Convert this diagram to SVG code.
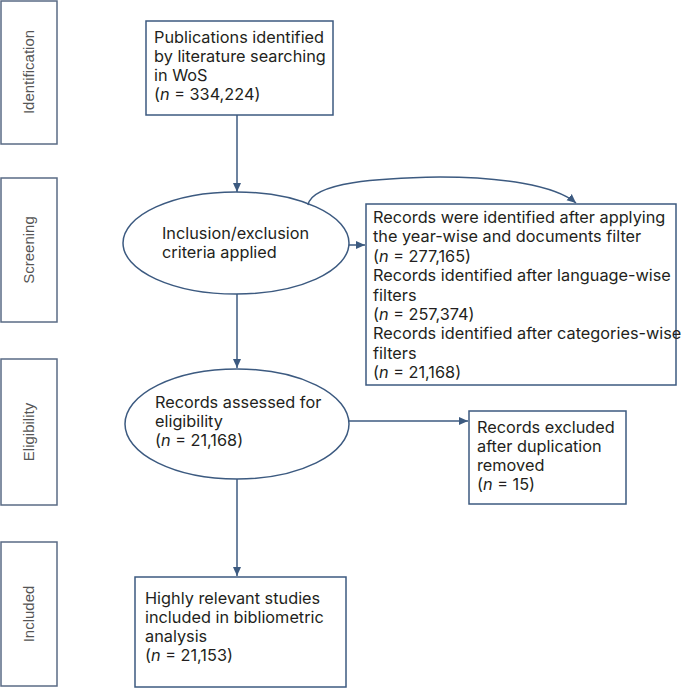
<svg xmlns="http://www.w3.org/2000/svg" width="685" height="691" viewBox="0 0 685 691">
<style>
.b{fill:#fff;stroke:#3c5a80;stroke-width:1.5}
.g{fill:#fff;stroke:#5a6b85;stroke-width:1.5}
.t{font-family:Inter,"Liberation Sans",sans-serif;font-size:16.3px;fill:#231f20}
.s{font-family:"Liberation Sans",Arial,sans-serif;font-size:15px;fill:#555;text-anchor:middle}
.c{fill:none;stroke:#3c5a80;stroke-width:1.5}
</style>
<defs><marker id="a" markerWidth="10" markerHeight="10" refX="9" refY="5" orient="auto" markerUnits="userSpaceOnUse"><path d="M0,1 L9,5 L0,9 Z" fill="#3c5a80"/></marker></defs>
<rect width="685" height="691" fill="#fff"/>
<g id="stage-identification"><rect class="g" x="1" y="1" width="56" height="143"/><text class="s" transform="translate(34,72) rotate(-90)">Identification</text></g>
<g id="stage-screening"><rect class="g" x="1" y="178" width="56" height="144"/><text class="s" transform="translate(34,250) rotate(-90)">Screening</text></g>
<g id="stage-eligibility"><rect class="g" x="1" y="359" width="56" height="146"/><text class="s" transform="translate(34,432) rotate(-90)">Eligibility</text></g>
<g id="stage-included"><rect class="g" x="1" y="542" width="56" height="144"/><text class="s" transform="translate(34,614) rotate(-90)">Included</text></g>
<g id="n1"><rect class="b" x="146" y="21" width="187" height="94"/><text class="t" x="154" y="43">Publications identified</text><text class="t" x="154" y="62">by literature searching</text><text class="t" x="154" y="81">in WoS</text><text class="t" x="154" y="100">(<tspan font-style="italic">n</tspan> = 334,224)</text></g>
<g id="n2"><ellipse class="b" cx="236" cy="243" rx="113" ry="51"/><text class="t" x="162" y="239">Inclusion/exclusion</text><text class="t" x="162" y="258">criteria applied</text></g>
<g id="n3"><rect class="b" x="366" y="204" width="310" height="181"/><text class="t" x="373" y="223">Records were identified after applying</text><text class="t" x="373" y="242.4">the year-wise and documents filter</text><text class="t" x="373" y="261.8">(<tspan font-style="italic">n</tspan> = 277,165)</text><text class="t" x="373" y="281.2">Records identified after language-wise</text><text class="t" x="373" y="300.6">filters</text><text class="t" x="373" y="320">(<tspan font-style="italic">n</tspan> = 257,374)</text><text class="t" x="373" y="339.4">Records identified after categories-wise</text><text class="t" x="373" y="358.8">filters</text><text class="t" x="373" y="378.2">(<tspan font-style="italic">n</tspan> = 21,168)</text></g>
<g id="n4"><ellipse class="b" cx="237" cy="424" rx="112" ry="55"/><text class="t" x="155" y="408">Records assessed for</text><text class="t" x="155" y="427">eligibility</text><text class="t" x="155" y="446">(<tspan font-style="italic">n</tspan> = 21,168)</text></g>
<g id="n5"><rect class="b" x="469" y="411" width="157" height="93"/><text class="t" x="477" y="433">Records excluded</text><text class="t" x="477" y="452">after duplication</text><text class="t" x="477" y="471">removed</text><text class="t" x="477" y="490">(<tspan font-style="italic">n</tspan> = 15)</text></g>
<g id="n6"><rect class="b" x="135" y="577" width="211" height="110"/><text class="t" x="145" y="604">Highly relevant studies</text><text class="t" x="145" y="623">included in bibliometric</text><text class="t" x="145" y="642">analysis</text><text class="t" x="145" y="661">(<tspan font-style="italic">n</tspan> = 21,153)</text></g>
<g id="connectors">
<line class="c" x1="237" y1="115" x2="237" y2="192" marker-end="url(#a)"/>
<line class="c" x1="349" y1="245" x2="365" y2="245" marker-end="url(#a)"/>
<path class="c" d="M308,205 C312,182 380,178 440,177 C500,177 555,185 576,203" marker-end="url(#a)"/>
<line class="c" x1="237" y1="294" x2="237" y2="368" marker-end="url(#a)"/>
<line class="c" x1="349" y1="421" x2="468" y2="421" marker-end="url(#a)"/>
<line class="c" x1="237" y1="479" x2="237" y2="576" marker-end="url(#a)"/>
</g>
</svg>
